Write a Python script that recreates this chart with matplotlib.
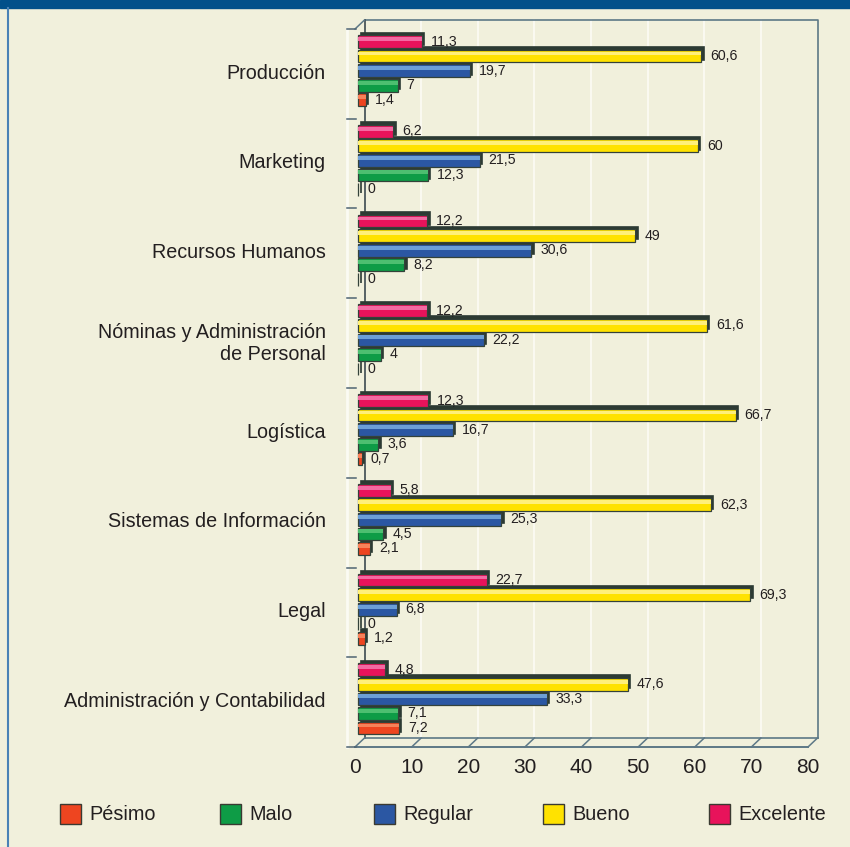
import numpy as np
import matplotlib
matplotlib.use('Agg')
import matplotlib.pyplot as plt
from matplotlib.patches import Rectangle
from matplotlib.transforms import ScaledTranslation

# Datos
categorias = ['Producción', 'Marketing', 'Recursos Humanos',
              'Nóminas y Administración\nde Personal', 'Logística',
              'Sistemas de Información', 'Legal', 'Administración y Contabilidad']
series = ['Pésimo', 'Malo', 'Regular', 'Bueno', 'Excelente']
pesimo = [1.4, 0, 0, 0, 0.7, 2.1, 1.2, 7.2]
malo = [7, 12.3, 8.2, 4, 3.6, 4.5, 0, 7.1]
regular = [19.7, 21.5, 30.6, 22.2, 16.7, 25.3, 6.8, 33.3]
bueno = [60.6, 60, 49, 61.6, 66.7, 62.3, 69.3, 47.6]
excelente = [11.3, 6.2, 12.2, 12.2, 12.3, 5.8, 22.7, 4.8]
ticks_x = [0, 10, 20, 30, 40, 50, 60, 70, 80]

valores = {'Pésimo': pesimo, 'Malo': malo, 'Regular': regular,
           'Bueno': bueno, 'Excelente': excelente}
colores = {'Pésimo': '#ee4520', 'Malo': '#0e9c46', 'Regular': '#2b57a3',
           'Bueno': '#ffe200', 'Excelente': '#e8135b'}
claros = {'Pésimo': '#f6825a', 'Malo': '#4dbf70', 'Regular': '#6c9fd6',
          'Bueno': '#fff07a', 'Excelente': '#f26aa2'}

plt.rcParams['font.family'] = ['Liberation Sans Narrow', 'Liberation Sans', 'DejaVu Sans']
texto = '#231f20'
fondo = '#f1f0dc'
linea_caja = '#5d7886'

fig = plt.figure(figsize=(8.5, 8.47), dpi=100, facecolor=fondo)

# franja superior y borde izquierdo
fig.patches.append(Rectangle((0, 1 - 8 / 847), 1, 8 / 847, transform=fig.transFigure,
                             color='#02508a', zorder=0))
fig.lines.append(plt.Line2D([7.5 / 850, 7.5 / 850], [0, 1 - 8 / 847], transform=fig.transFigure,
                            color='#4a82b6', lw=1.5))

ax = fig.add_axes([355 / 850, 1 - 747 / 847, 453 / 850, 718 / 847])
ax.set_facecolor('none')
for s in ax.spines.values():
    s.set_visible(False)
ax.set_xlim(0, 80)
ax.set_ylim(8, 0)


def desplaza(dx, dy):
    return ax.transData + ScaledTranslation(dx / 100, dy / 100, fig.dpi_scale_trans)


fondo_t = desplaza(9.5, 9)
n = len(categorias)

# caja 3D: pared del fondo, suelo y rejilla
for v in ticks_x[1:-1]:
    ax.plot([v, v], [0, n], color='#fbfbf3', lw=1.3, transform=fondo_t, zorder=1, clip_on=False)
ax.plot([0, 80, 80], [0, 0, n], color=linea_caja, lw=1.2, transform=fondo_t, zorder=1, clip_on=False)
ax.plot([0, 0], [0, n], color='#3c4a50', lw=1.2, transform=fondo_t, zorder=1, clip_on=False)
ax.plot([0, 80], [n, n], color=linea_caja, lw=1.2, transform=fondo_t, zorder=1, clip_on=False)
ax.plot([0, 80], [n, n], color=linea_caja, lw=1.4, zorder=1, clip_on=False)
for v in ticks_x:
    x0, y0 = ax.transData.transform((v, n))
    ax.plot([x0, x0 + 9.5], [y0, y0 + 9], color=linea_caja, lw=1.1,
            transform=None, zorder=1, clip_on=False)
x0, y0 = ax.transData.transform((0, 0))
ax.plot([x0, x0 + 9.5], [y0, y0 + 9], color=linea_caja, lw=1.1, transform=None, zorder=1, clip_on=False)

# eje izquierdo con marcas entre grupos
izq = desplaza(-8, 0)
ax.plot([0, 0], [0, n], color='#fbfbf3', lw=2, transform=izq, zorder=1, clip_on=False)
for i in range(n + 1):
    x0, y0 = ax.transData.transform((0, i))
    ax.plot([x0 - 8, x0 + 1], [y0, y0], color='#4e6472', lw=1.1, transform=None,
            zorder=1, clip_on=False)

# barras (de arriba a abajo: Excelente, Bueno, Regular, Malo, Pesimo)
alto = 0.142
barra_t = desplaza(3, 0)
sombra_t = desplaza(5.5, 2.5)
etiqueta_t = desplaza(12, 0)
for k, serie in enumerate(series[::-1]):
    y = np.arange(n) + 0.14 + k * 0.162
    vals = valores[serie]
    ax.barh(y, vals, height=alto, color='#2c3a33', edgecolor='#2c3a33', lw=1.2,
            transform=sombra_t, zorder=3)
    ax.barh(y, vals, height=alto, color=colores[serie], edgecolor='#34423a', lw=0.9,
            transform=barra_t, zorder=4)
    ax.barh(y - alto * 0.2, vals, height=alto * 0.3, color=claros[serie], lw=0,
            transform=barra_t, zorder=5)
    for yy, v in zip(y, vals):
        ax.text(v, yy, f'{v:g}'.replace('.', ','), transform=etiqueta_t, fontsize=10.2,
                color=texto, va='center', ha='left', zorder=6)

ax.set_xticks(ticks_x)
ax.set_xticklabels([str(t) for t in ticks_x])
ax.tick_params(axis='x', length=0, pad=8, labelsize=15, labelcolor=texto)
ax.set_yticks(np.arange(n) + 0.47)
ax.set_yticklabels(categorias)
ax.tick_params(axis='y', length=0, pad=21, labelsize=14.2, labelcolor=texto)

# leyenda
pos_leyenda = [60, 220, 374, 543, 709]
for serie, xp in zip(series, pos_leyenda):
    fig.patches.append(Rectangle((xp / 850, 1 - 824 / 847), 21 / 850, 20 / 847,
                                 transform=fig.transFigure, facecolor=colores[serie],
                                 edgecolor='#3a3a32', lw=1))
    fig.text((xp + 29) / 850, 1 - 814 / 847, serie, fontsize=14.3, color=texto,
             va='center', ha='left')

plt.savefig('out.png', dpi=100, facecolor=fondo)
